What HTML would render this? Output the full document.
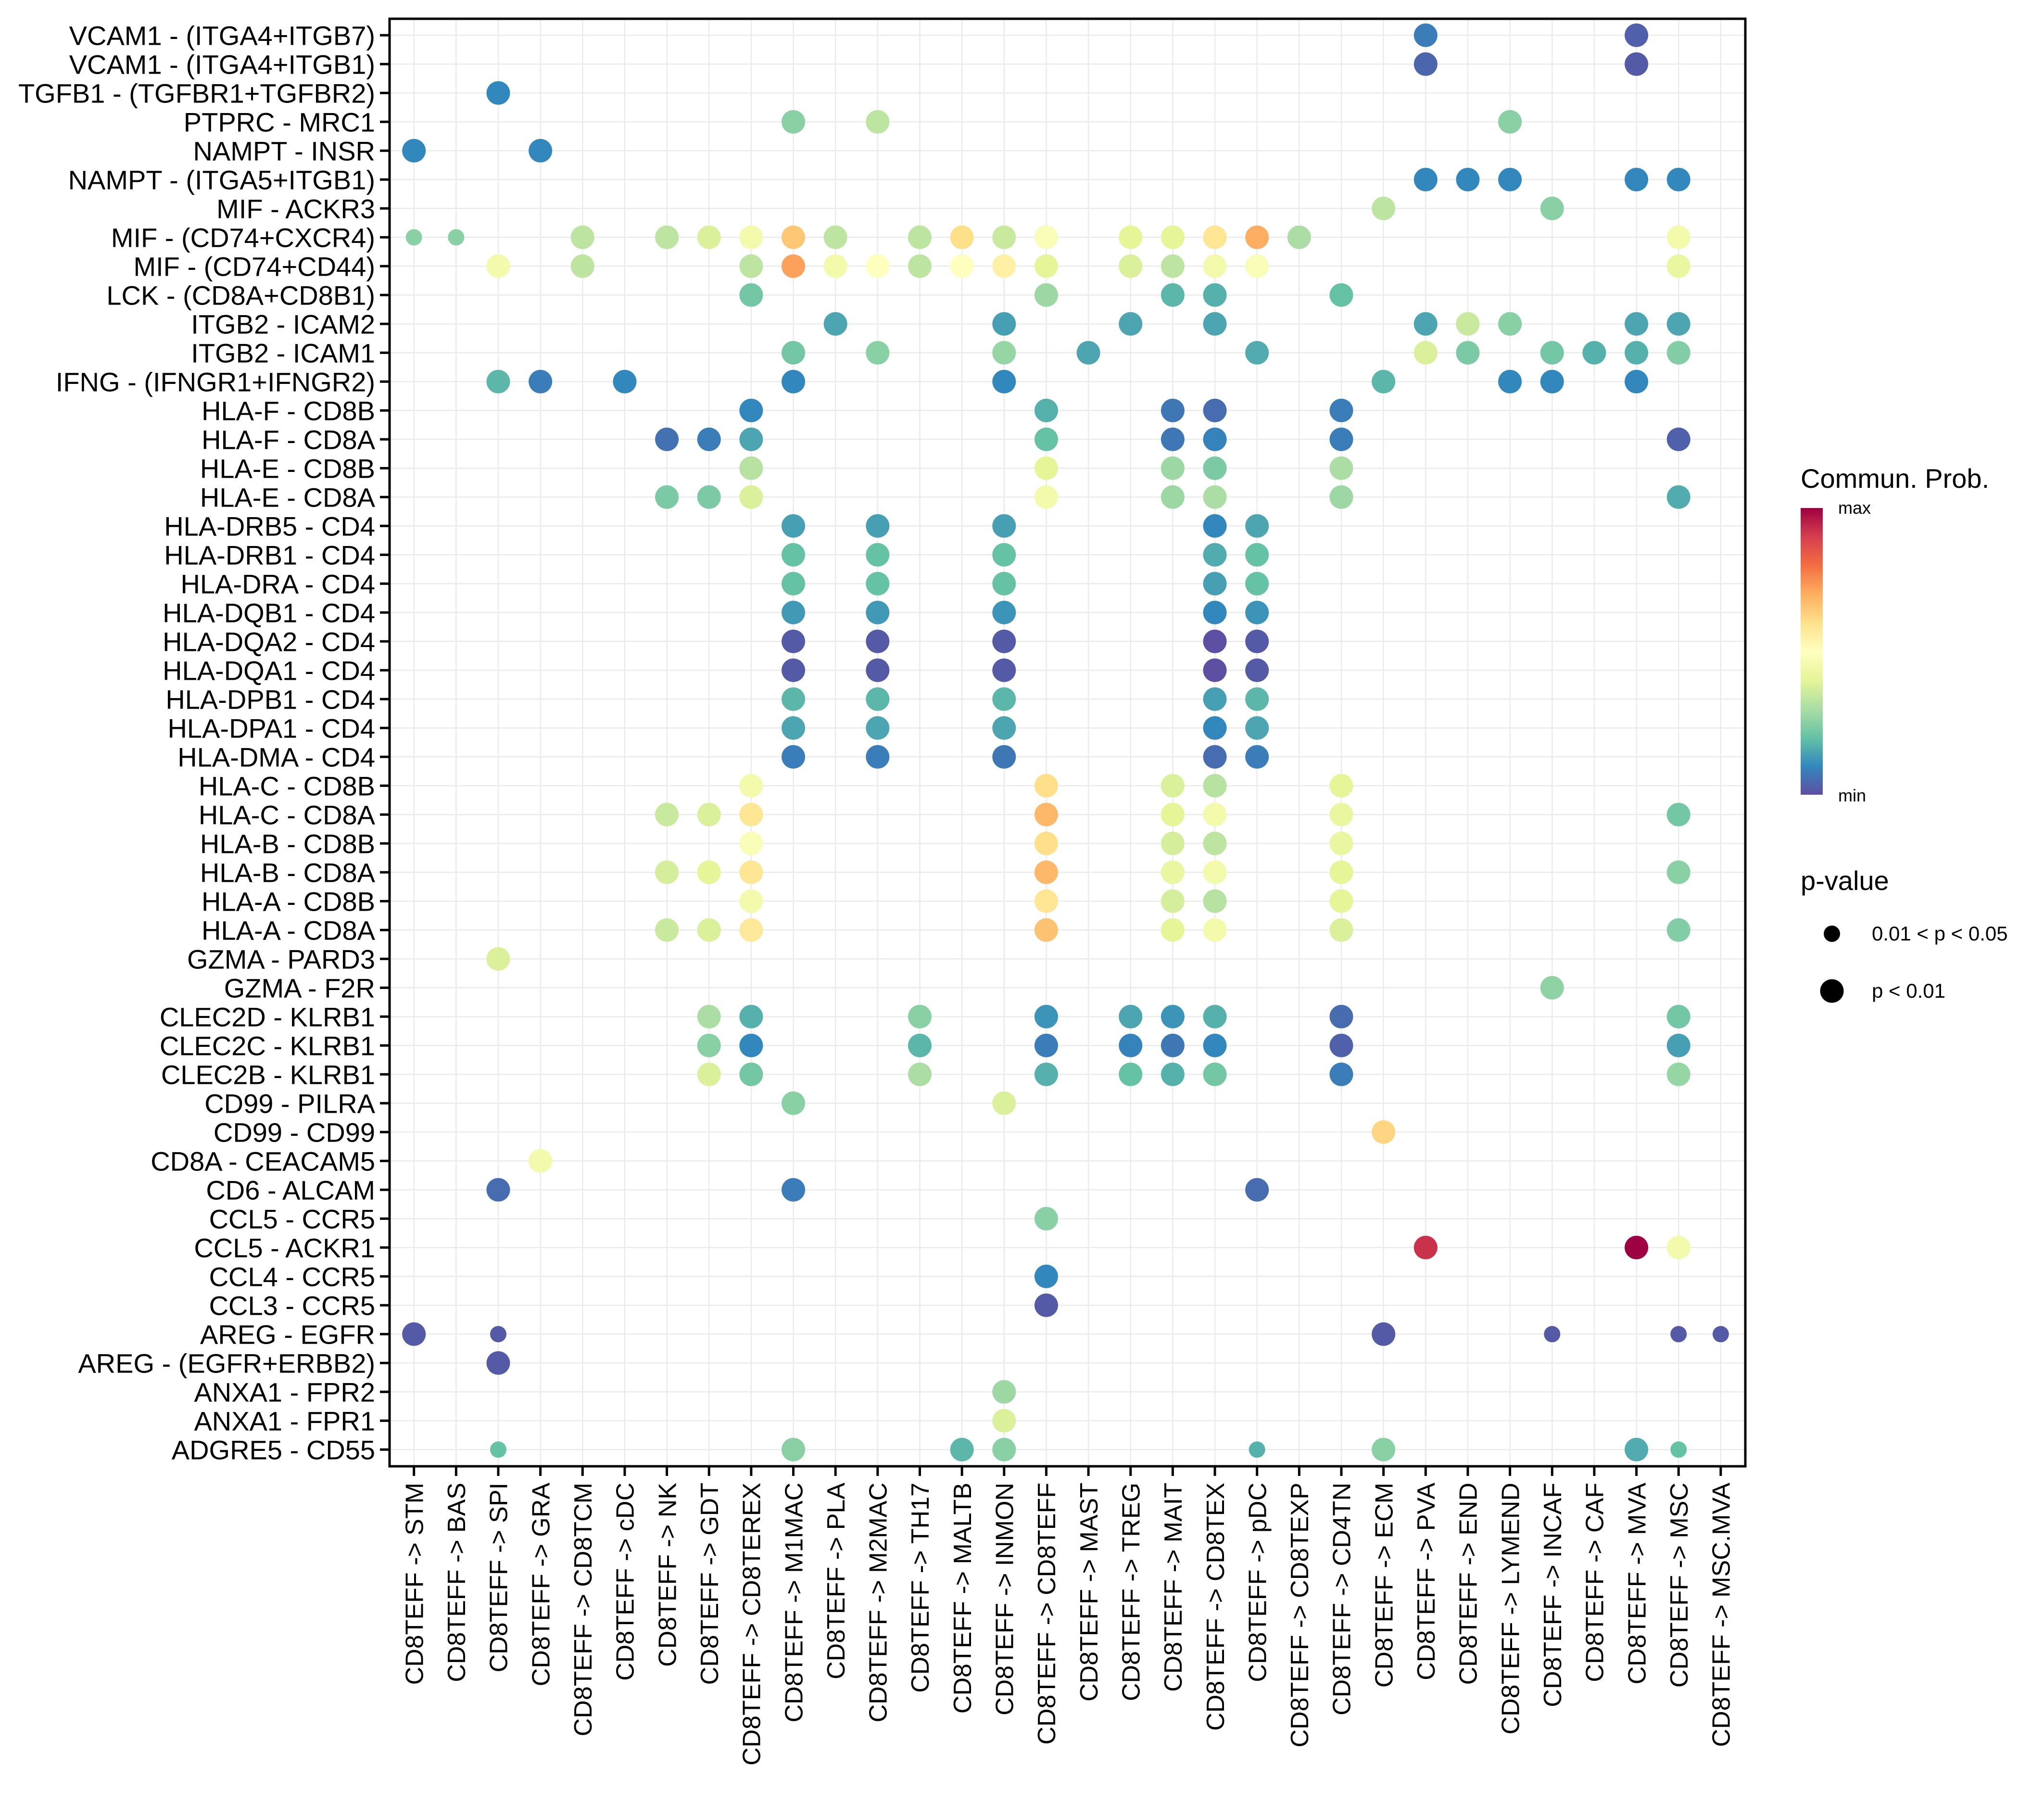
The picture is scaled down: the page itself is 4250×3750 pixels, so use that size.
<!DOCTYPE html>
<html><head><meta charset="utf-8"><style>
html,body{margin:0;padding:0;background:#fff}
svg{display:block;font-family:"Liberation Sans",Arial,sans-serif}
</style></head><body>
<svg id="chart" width="4250" height="3750" viewBox="0 0 4250 3750" xmlns="http://www.w3.org/2000/svg">
<defs><linearGradient id="spec" x1="0" y1="1" x2="0" y2="0">
<stop offset="0" stop-color="#5E4FA2"/><stop offset="0.1" stop-color="#3288BD"/><stop offset="0.2" stop-color="#66C2A5"/><stop offset="0.3" stop-color="#ABDDA4"/><stop offset="0.4" stop-color="#E6F598"/><stop offset="0.5" stop-color="#FFFFBF"/><stop offset="0.6" stop-color="#FEE08B"/><stop offset="0.7" stop-color="#FDAE61"/><stop offset="0.8" stop-color="#F46D43"/><stop offset="0.9" stop-color="#D53E4F"/><stop offset="1" stop-color="#9E0142"/>
</linearGradient></defs>
<rect x="0" y="0" width="4250" height="3750" fill="#fff"/>
<g id="grid"></g>
<g id="points"></g>
<rect x="810" y="39" width="2819" height="3009" fill="none" stroke="#000" stroke-width="5"/>
<g id="yaxis"></g>
<g id="xaxis"></g>
<g>
<text x="3744" y="1014" font-size="56">Commun. Prob.</text>
<rect x="3744" y="1056" width="46" height="596" fill="url(#spec)"/>
<text x="3822" y="1068" font-size="36">max</text>
<text x="3822" y="1666" font-size="36">min</text>
</g>
<g>
<text x="3744" y="1850" font-size="56">p-value</text>
<circle cx="3809" cy="1941" r="17" fill="#000"/>
<text x="3892" y="1955" font-size="42">0.01 &lt; p &lt; 0.05</text>
<circle cx="3809" cy="2060" r="24.5" fill="#000"/>
<text x="3892" y="2074" font-size="42">p &lt; 0.01</text>
</g>
</svg>
<script>
const rowLabels = ["VCAM1 - (ITGA4+ITGB7)","VCAM1 - (ITGA4+ITGB1)","TGFB1 - (TGFBR1+TGFBR2)","PTPRC - MRC1","NAMPT - INSR","NAMPT - (ITGA5+ITGB1)","MIF - ACKR3","MIF - (CD74+CXCR4)","MIF - (CD74+CD44)","LCK - (CD8A+CD8B1)","ITGB2 - ICAM2","ITGB2 - ICAM1","IFNG - (IFNGR1+IFNGR2)","HLA-F - CD8B","HLA-F - CD8A","HLA-E - CD8B","HLA-E - CD8A","HLA-DRB5 - CD4","HLA-DRB1 - CD4","HLA-DRA - CD4","HLA-DQB1 - CD4","HLA-DQA2 - CD4","HLA-DQA1 - CD4","HLA-DPB1 - CD4","HLA-DPA1 - CD4","HLA-DMA - CD4","HLA-C - CD8B","HLA-C - CD8A","HLA-B - CD8B","HLA-B - CD8A","HLA-A - CD8B","HLA-A - CD8A","GZMA - PARD3","GZMA - F2R","CLEC2D - KLRB1","CLEC2C - KLRB1","CLEC2B - KLRB1","CD99 - PILRA","CD99 - CD99","CD8A - CEACAM5","CD6 - ALCAM","CCL5 - CCR5","CCL5 - ACKR1","CCL4 - CCR5","CCL3 - CCR5","AREG - EGFR","AREG - (EGFR+ERBB2)","ANXA1 - FPR2","ANXA1 - FPR1","ADGRE5 - CD55"];
const colLabels = ["STM","BAS","SPI","GRA","CD8TCM","cDC","NK","GDT","CD8TEREX","M1MAC","PLA","M2MAC","TH17","MALTB","INMON","CD8TEFF","MAST","TREG","MAIT","CD8TEX","pDC","CD8TEXP","CD4TN","ECM","PVA","END","LYMEND","INCAF","CAF","MVA","MSC","MSC.MVA"];
const rowCols = [
[24,29],[24,29],[2],[9,11,26],[0,3],[24,25,26,29,30],[23,27],
[0,1,4,6,7,8,9,10,12,13,14,15,17,18,19,20,21,30],
[2,4,8,9,10,11,12,13,14,15,17,18,19,20,30],
[8,15,18,19,22],[10,14,17,19,24,25,26,29,30],[9,11,14,16,20,24,25,27,28,29,30],
[2,3,5,9,14,23,26,27,29],[8,15,18,19,22],[6,7,8,15,18,19,22,30],[8,15,18,19,22],[6,7,8,15,18,19,22,30],
[9,11,14,19,20],[9,11,14,19,20],[9,11,14,19,20],[9,11,14,19,20],[9,11,14,19,20],[9,11,14,19,20],[9,11,14,19,20],[9,11,14,19,20],[9,11,14,19,20],
[8,15,18,19,22],[6,7,8,15,18,19,22,30],[8,15,18,19,22],[6,7,8,15,18,19,22,30],[8,15,18,19,22],[6,7,8,15,18,19,22,30],
[2],[27],[7,8,12,15,17,18,19,22,30],[7,8,12,15,17,18,19,22,30],[7,8,12,15,17,18,19,22,30],
[9,14],[23],[3],[2,9,20],[15],[24,29,30],[15],[15],[0,2,23,27,30,31],[2],[14],[14],[2,9,13,14,20,23,29,30]];
const rowProbs = [
[.08,.03],[.04,.02],[.1],[.25,.33,.25],[.1,.1],[.1,.1,.1,.1,.1],[.33,.25],
[.25,.25,.33,.33,.38,.45,.65,.33,.33,.6,.35,.48,.4,.4,.58,.7,.3,.45],
[.45,.33,.33,.72,.45,.5,.33,.5,.55,.4,.38,.33,.45,.48,.42],
[.22,.28,.18,.17,.2],[.15,.14,.15,.15,.15,.35,.25,.15,.15],[.22,.25,.27,.15,.16,.38,.23,.22,.17,.17,.24],
[.18,.08,.1,.1,.1,.18,.1,.1,.1],[.1,.17,.07,.05,.08],[.06,.08,.15,.2,.07,.09,.08,.03],[.32,.4,.28,.23,.3],[.23,.23,.38,.45,.28,.3,.28,.16],
[.14,.14,.14,.1,.15],[.2,.2,.2,.16,.2],[.2,.2,.2,.14,.2],[.13,.13,.12,.1,.12],[.02,.02,.02,0,.02],[.02,.02,.02,0,.02],[.18,.18,.18,.14,.18],[.15,.15,.15,.1,.15],[.08,.08,.07,.05,.08],
[.45,.6,.38,.32,.4],[.35,.38,.58,.68,.4,.45,.42,.22],[.48,.6,.37,.33,.42],[.37,.4,.58,.68,.42,.45,.4,.25],[.45,.58,.37,.32,.4],[.35,.38,.57,.66,.4,.45,.38,.24],
[.38],[.26],[.3,.17,.25,.12,.15,.12,.17,.05,.22],[.25,.1,.18,.08,.09,.07,.1,.03,.14],[.38,.22,.3,.17,.2,.17,.22,.08,.27],
[.25,.38],[.62],[.45],[.05,.08,.05],[.25],[.92,1.0,.45],[.1],[.02],[.02,.02,.02,.02,.02,.02],[.02],[.28],[.38],[.2,.25,.18,.25,.17,.25,.16,.2]];
const smallPoints = ["7:0","7:1","45:2","45:27","45:30","45:31","49:2","49:20","49:30"];
const spectral = ["#5E4FA2","#3288BD","#66C2A5","#ABDDA4","#E6F598","#FFFFBF","#FEE08B","#FDAE61","#F46D43","#D53E4F","#9E0142"];

const NS="http://www.w3.org/2000/svg";
const X0=860.7, DX=87.65, Y0=73.3, DY=60;
function xScale(c){return X0+c*DX;}
function yScale(r){return Y0+r*DY;}
function hex(h){return [parseInt(h.substr(1,2),16),parseInt(h.substr(3,2),16),parseInt(h.substr(5,2),16)];}
function color(v){v=Math.max(0,Math.min(1,v));const t=v*10,i=Math.min(9,Math.floor(t)),f=t-i;const a=hex(spectral[i]),b=hex(spectral[i+1]);
return "rgb("+a.map((x,k)=>Math.round(x+(b[k]-x)*f)).join(",")+")";}
function mk(tag,attrs){const e=document.createElementNS(NS,tag);for(const k in attrs)e.setAttribute(k,attrs[k]);return e;}
const grid=document.getElementById('grid'),pts=document.getElementById('points'),ya=document.getElementById('yaxis'),xa=document.getElementById('xaxis');
rowLabels.forEach((lab,r)=>{
  const y=yScale(r);
  const gl=mk('line',{x1:812,x2:3627,y1:y,y2:y,stroke:'#ebebeb','stroke-width':2.5});
  
  
  grid.appendChild(gl);
  const tk=mk('line',{x1:790,x2:810,y1:y,y2:y,stroke:'#000','stroke-width':5});
  
  
  ya.appendChild(tk);
  const t=mk('text',{x:780,y:y,'font-size':56,'text-anchor':'end',dy:'0.36em',fill:'#000'});
  t.textContent=lab;
  
  
  ya.appendChild(t);
});
colLabels.forEach((lab,c)=>{
  const x=xScale(c);
  const gl=mk('line',{x1:x,x2:x,y1:41,y2:3046,stroke:'#ebebeb','stroke-width':2.5});
  
  
  grid.appendChild(gl);
  const tk=mk('line',{x1:x,x2:x,y1:3048,y2:3068,stroke:'#000','stroke-width':5});
  
  
  xa.appendChild(tk);
  const t=mk('text',{x:0,y:0,'font-size':52,'text-anchor':'end',dy:'0.36em',fill:'#000',transform:'translate('+x+',3082) rotate(-90)'});
  t.textContent='CD8TEFF -> '+lab;
  
  
  xa.appendChild(t);
});
rowCols.forEach((cols,r)=>{
  cols.forEach((c,i)=>{
    const small=smallPoints.indexOf(r+':'+c)>=0;
    const ci=mk('circle',{cx:xScale(c),cy:yScale(r),r:small?17:24.5,fill:color(rowProbs[r][i])});
    
    
    pts.appendChild(ci);
  });
});
</script>
</body></html>
